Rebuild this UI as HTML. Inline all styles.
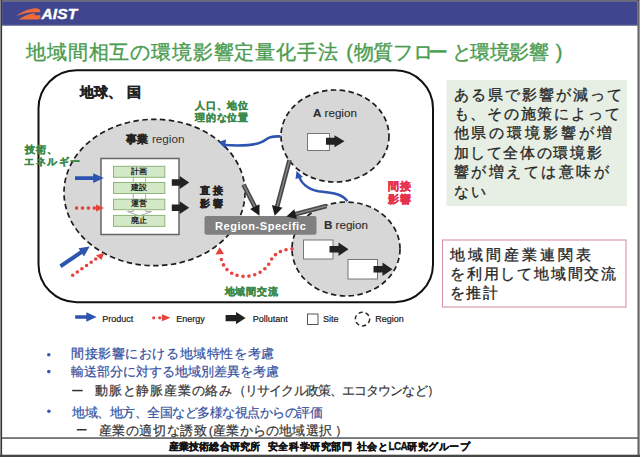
<!DOCTYPE html>
<html><head><meta charset="utf-8">
<style>
html,body{margin:0;padding:0;background:#fff;}
body{width:640px;height:457px;position:relative;overflow:hidden;font-family:"Liberation Sans",sans-serif;}
.a{position:absolute;white-space:nowrap;line-height:1;}
svg{position:absolute;left:0;top:0;}
.g{color:#3c8a4c;font-weight:bold;-webkit-text-stroke:0.35px #3c8a4c;}
.k{color:#222;font-weight:bold;-webkit-text-stroke:0.35px #222;}
.ft{top:441.8px;font-size:10px;font-weight:bold;color:#111;-webkit-text-stroke:0.3px #111;}
.bl{font-size:13px;color:#35509f;-webkit-text-stroke:0.2px currentColor;}
.rb{font-size:15px;color:#262626;-webkit-text-stroke:0.3px #262626;}
.t{top:41.5px;font-size:20px;color:#4a9c4f;-webkit-text-stroke:0.35px #4a9c4f;}
</style></head><body>
<svg width="640" height="457" viewBox="0 0 640 457">
  <!-- frame -->
  <rect x="0" y="0" width="640" height="457" fill="#fff"/>
  <rect x="0" y="0" width="640" height="1.2" fill="#6e6e6e"/>
  <rect x="0" y="0" width="1" height="457" fill="#8a8a8a"/>
  <rect x="1" y="0" width="1.1" height="457" fill="#353535"/>
  <rect x="637.6" y="0" width="1.2" height="457" fill="#303030"/>
  <rect x="638.8" y="0" width="1.2" height="457" fill="#9a9a9a"/>
  <rect x="0" y="454.7" width="640" height="2.3" fill="#474747"/>
  <!-- header -->
  <rect x="2.1" y="1.2" width="635.5" height="23.6" fill="#40468e"/>
  <rect x="2.1" y="24.6" width="635.5" height="1" fill="#2c2f6c"/>
  <!-- logo swoosh -->
  <path d="M16.3,16 C21,12.2 28,9 34.5,8.3 C38.2,8 40.4,9.4 40.4,11.8 L40.4,12.3 L34.6,12.3 C28.5,12.2 22.5,13.6 16.3,16 Z" fill="#f06b3a"/>
  <path d="M18.3,19.4 C23,16.8 28.5,13.9 34.2,13.3 L34.8,13.3 L34.8,15.3 L40.4,15.3 L40.4,17.2 C40.4,18.6 39.3,19.4 37.6,19.4 Z" fill="#f06b3a"/>
  <!-- footer separator -->
  <rect x="2" y="437.3" width="636" height="1.5" fill="#555"/>

  <!-- outer rounded rect -->
  <rect x="38.5" y="70.3" width="394.5" height="231.9" rx="38" ry="38" fill="none" stroke="#111" stroke-width="2"/>

  <!-- ellipses -->
  <ellipse cx="154.5" cy="192.5" rx="90.5" ry="73.2" fill="#d7d7d7" stroke="#1e1e1e" stroke-width="1.7" stroke-dasharray="5.5 3.4"/>
  <ellipse cx="335" cy="136" rx="54" ry="46" fill="#d7d7d7" stroke="#1e1e1e" stroke-width="1.7" stroke-dasharray="5.5 3.4"/>
  <ellipse cx="346" cy="249" rx="54" ry="47" fill="#d7d7d7" stroke="#1e1e1e" stroke-width="1.7" stroke-dasharray="5.5 3.4"/>

  <!-- site box in big ellipse -->
  <rect x="101" y="158.5" width="78" height="76" fill="#fff" stroke="#666" stroke-width="1.5"/>
  <!-- connectors -->
  <rect x="133.2" y="177" width="12.5" height="6" fill="#fff" stroke="#999" stroke-width="0.8"/>
  <rect x="133.2" y="193.2" width="12.5" height="6.4" fill="#fff" stroke="#999" stroke-width="0.8"/>
  <path d="M133.2,209.5 L133.2,211.5 L127.5,211.5 L139.5,216 L151.5,211.5 L145.7,211.5 L145.7,209.5" fill="#fff" stroke="#999" stroke-width="0.8"/>
  <!-- green boxes -->
  <g fill="#d3e8c6" stroke="#8cb57a" stroke-width="1">
    <rect x="113.5" y="166.3" width="51.3" height="11"/>
    <rect x="113.5" y="182.5" width="51.3" height="11"/>
    <rect x="113.5" y="199.2" width="51.3" height="10.5"/>
    <rect x="113.5" y="215.4" width="51.3" height="11"/>
  </g>

  <!-- black arrows (pollutant) -->
  <g fill="#222">
    <path d="M171.8,179.25 h7.9 v-3.15 l9.5,6.4 l-9.5,6.4 v-3.15 h-7.9 z"/>
    <path d="M171.8,204.45 h7.9 v-3.15 l9.5,6.4 l-9.5,6.4 v-3.15 h-7.9 z"/>
  </g>
  <!-- site boxes in A, B -->
  <rect x="307.5" y="133.5" width="22" height="17" fill="#fff" stroke="#777" stroke-width="1"/>
  <rect x="303.5" y="240" width="29.5" height="19" fill="#fff" stroke="#777" stroke-width="1"/>
  <rect x="348" y="259.5" width="29.5" height="19.5" fill="#fff" stroke="#777" stroke-width="1"/>
  <!-- arrows out of sites in A, B -->
  <g fill="#222">
    <path d="M326,137.8 h8.5 v-2.5 l10,6 l-10,6 v-2.5 h-8.5 z"/>
    <path d="M329.5,246 h9 v-3.5 l10,6.7 l-10,6.7 v-3.5 h-9 z"/>
    <path d="M373.5,266 h9 v-3.5 l10,6.7 l-10,6.7 v-3.5 h-9 z"/>
  </g>

  <!-- Region-Specific box -->
  <rect x="204.5" y="216" width="112" height="18.8" rx="2" fill="#808080"/>

  <!-- gray hatched arrows into Region-Specific -->
  <g stroke-linecap="butt">
    <line x1="243.5" y1="184.5" x2="255.0" y2="207.1" stroke="#474747" stroke-width="4.6"/>
    <line x1="243.5" y1="184.5" x2="255.0" y2="207.1" stroke="#8a8a8a" stroke-width="1.3"/>
    <line x1="289.5" y1="160.0" x2="277.1" y2="206.8" stroke="#474747" stroke-width="4.6"/>
    <line x1="289.5" y1="160.0" x2="277.1" y2="206.8" stroke="#8a8a8a" stroke-width="1.3"/>
    <line x1="326.5" y1="206.0" x2="295.1" y2="214.2" stroke="#474747" stroke-width="4.6"/>
    <line x1="326.5" y1="206.0" x2="295.1" y2="214.2" stroke="#8a8a8a" stroke-width="1.3"/>
  </g>
  <g fill="#1c1c1c">
    <path d="M259.5,215.8 L250.1,209.0 L259.5,204.2 Z"/>
    <path d="M274.7,215.8 L271.9,204.9 L282.5,207.7 Z"/>
    <path d="M286.4,216.5 L294.3,209.3 L296.9,218.9 Z"/>
  </g>

  <!-- blue product arrows -->
  <g stroke="#2d54ae" fill="none" stroke-width="2.6">
    <path d="M280.5,136.4 C270,136 268,138 265.6,139.8 C258,146 240,146 224,145"/>
    <path d="M347.4,201.3 C343,195 336,193 318.3,191.3 C308,189 301,183 299,176"/>
  </g>
  <g fill="#2d54ae">
    <path d="M218.4,141.9 L226,139.5 L225,148.5 Z"/>
    <path d="M296.5,170.7 L303,177 L295.5,179 Z"/>
    <path d="M75,176.25 h18.2 v-2.9 l10.6,4.75 l-10.6,5 v-3.1 h-18.2 z"/>
    <path d="M61.6,267.9 L82.3,253.9 L84.0,256.4 L89.7,246.6 L78.5,248.2 L80.1,250.6 L59.4,264.5 Z"/>
    <path d="M75.2,315.2 h11.1 v-2.9 l10.3,4.7 l-10.3,4.7 v-3 h-11.1 z"/>
  </g>

  <!-- red energy arrows (dotted) -->
  <g stroke="#e8403a" fill="none" stroke-width="3.6" stroke-dasharray="0 5.9" stroke-linecap="round">
    <path d="M76.6,208.1 L94.3,208.1"/>
    <path d="M72.7,275.3 L95.8,259" stroke-dasharray="0 5.65"/>
    <path d="M292,248.9 C280,250 274,254 270,262 C265,272 252,278 240,276 C228,274 222,266 220.5,255"/>
    <path d="M153.7,317.8 L159.9,317.8" stroke-dasharray="0 6" stroke-width="3.2"/>
  </g>
  <g fill="#e8403a">
    <path d="M96,204.6 L104,208.1 L96,211.6 Z"/>
    <path d="M96,255.3 L104.3,252.8 L101.4,259.9 Z"/>
    <path d="M219.6,247.2 L215.5,254.5 L224,254 Z"/>
    <path d="M161.9,314.3 L170.5,317.8 L161.9,321.3 Z"/>
  </g>

  <!-- legend items -->
  <path d="M225.6,315 h10.4 v-3.1 l9.6,6.2 l-9.6,6.2 v-3.1 h-10.4 z" fill="#222"/>
  <rect x="307.5" y="314" width="10.5" height="10.5" fill="#fff" stroke="#555" stroke-width="1"/>
  <ellipse cx="362.5" cy="319.1" rx="7.2" ry="6.8" fill="none" stroke="#2a2a2a" stroke-width="1.5" stroke-dasharray="4.2 3"/>

  <!-- right boxes -->
  <rect x="446.5" y="80" width="180.5" height="126" fill="#e7efe4"/>
  <rect x="442.5" y="240" width="183.5" height="67" fill="#fff" stroke="#d8929f" stroke-width="1.1"/>

  <!-- bullets -->
  <g fill="#3a5aa8">
    <circle cx="48.8" cy="354.7" r="1.8"/>
    <circle cx="48.8" cy="371.6" r="1.8"/>
    <circle cx="48.9" cy="411.3" r="1.8"/>
  </g>
  <g fill="#333">
    <rect x="72.2" y="389.8" width="10.5" height="1.5"/>
    <rect x="76.8" y="429" width="9.8" height="1.5"/>
  </g>
</svg>

<!-- header text -->
<div class="a" style="left:41.5px;top:6px;font-size:15.5px;font-weight:bold;font-style:italic;color:#fff;letter-spacing:0.1px;-webkit-text-stroke:0.35px #fff;">AIST</div>

<!-- title -->
<div class="a t" style="left:26px;letter-spacing:0.85px;width:312.75px;text-align:justify;text-align-last:justify;">地域間相互の環境影響定量化手法</div>
<div class="a t" style="left:346.3px;">(</div>
<div class="a t" style="left:354.0px;width:20.00px;text-align:justify;text-align-last:justify;">物</div>
<div class="a t" style="left:372.8px;width:20.00px;text-align:justify;text-align-last:justify;">質</div>
<div class="a t" style="left:393.4px;width:20.00px;text-align:justify;text-align-last:justify;">フ</div>
<div class="a t" style="left:413.0px;width:20.00px;text-align:justify;text-align-last:justify;">ロ</div>
<div class="a t" style="left:428.0px;width:20.00px;text-align:justify;text-align-last:justify;">ー</div>
<div class="a t" style="left:452.2px;width:20.00px;text-align:justify;text-align-last:justify;">と</div>
<div class="a t" style="left:469.5px;width:20.00px;text-align:justify;text-align-last:justify;">環</div>
<div class="a t" style="left:489.8px;width:20.00px;text-align:justify;text-align-last:justify;">境</div>
<div class="a t" style="left:509.0px;width:20.00px;text-align:justify;text-align-last:justify;">影</div>
<div class="a t" style="left:529.4px;width:20.00px;text-align:justify;text-align-last:justify;">響</div>
<div class="a t" style="left:555.8px;">)</div>

<!-- diagram text -->
<div class="a k" style="left:80px;top:85px;font-size:14px;width:61.00px;text-align:justify;text-align-last:justify;">地球、<span style="margin-left:5px">国</span></div>
<div class="a g" style="left:195px;top:100.0px;font-size:10px;letter-spacing:0.8px;line-height:11.6px;width:54.00px;text-align:justify;text-align-last:justify;">人口、地位</div>
<div class="a g" style="left:195px;top:111.6px;font-size:10px;letter-spacing:0.8px;line-height:11.6px;width:54.00px;text-align:justify;text-align-last:justify;">理的な位置</div>
<div class="a g" style="left:25px;top:143.5px;font-size:10px;letter-spacing:0.8px;line-height:12.6px;width:32.41px;text-align:justify;text-align-last:justify;">技術、</div>
<div class="a g" style="left:24.2px;top:156.1px;font-size:10px;letter-spacing:1.5px;line-height:12.6px;width:57.50px;text-align:justify;text-align-last:justify;">エネルギー</div>
<div class="a" style="left:125.5px;top:133.2px;font-size:11.7px;color:#333;width:58.95px;text-align:justify;text-align-last:justify;"><b style="font-size:10.6px;letter-spacing:0.6px;color:#222;-webkit-text-stroke:0.3px #222;">事業</b> region</div>
<div class="a k" style="left:200.3px;top:185.3px;font-size:9.8px;letter-spacing:2.8px;line-height:12px;width:25.61px;text-align:justify;text-align-last:justify;">直接</div>
<div class="a k" style="left:200.3px;top:197.5px;font-size:9.8px;letter-spacing:2.8px;line-height:12px;width:25.61px;text-align:justify;text-align-last:justify;">影響</div>
<div class="a" style="left:313px;top:106.7px;font-size:11.6px;color:#2e2e2e;-webkit-text-stroke:0.15px #2e2e2e;"><b>A</b> region</div>
<div class="a" style="left:324px;top:219.4px;font-size:11.6px;color:#2e2e2e;-webkit-text-stroke:0.15px #2e2e2e;"><b>B</b> region</div>
<div class="a" style="left:215px;top:220.6px;font-size:11px;letter-spacing:0.55px;font-weight:bold;color:#fff;">Region-Specific</div>
<div class="a" style="left:388px;top:180.0px;font-size:11px;line-height:12.7px;letter-spacing:0.5px;font-weight:bold;color:#e5324c;-webkit-text-stroke:0.35px #e5324c;width:23.00px;text-align:justify;text-align-last:justify;">間接</div>
<div class="a" style="left:388px;top:192.7px;font-size:11px;line-height:12.7px;letter-spacing:0.5px;font-weight:bold;color:#e5324c;-webkit-text-stroke:0.35px #e5324c;width:23.00px;text-align:justify;text-align-last:justify;">影響</div>
<div class="a g" style="left:224.5px;top:287px;font-size:10px;letter-spacing:0.75px;width:53.75px;text-align:justify;text-align-last:justify;">地域間交流</div>
<div class="a" style="left:113.5px;width:51.3px;text-align:center;top:167.6px;font-size:8px;font-weight:bold;color:#222;">計画</div>
<div class="a" style="left:113.5px;width:51.3px;text-align:center;top:183.7px;font-size:8px;font-weight:bold;color:#222;">建設</div>
<div class="a" style="left:113.5px;width:51.3px;text-align:center;top:200.2px;font-size:8px;font-weight:bold;color:#222;">運営</div>
<div class="a" style="left:113.5px;width:51.3px;text-align:center;top:216.6px;font-size:8px;font-weight:bold;color:#222;">廃止</div>

<!-- legend text -->
<div class="a" style="left:102.3px;top:314.5px;font-size:9px;color:#1a1a1a;-webkit-text-stroke:0.2px #1a1a1a;">Product</div>
<div class="a" style="left:176.3px;top:314.5px;font-size:9px;color:#1a1a1a;-webkit-text-stroke:0.2px #1a1a1a;">Energy</div>
<div class="a" style="left:252.8px;top:314.5px;font-size:9px;color:#1a1a1a;-webkit-text-stroke:0.2px #1a1a1a;">Pollutant</div>
<div class="a" style="left:323px;top:314.5px;font-size:9px;color:#1a1a1a;-webkit-text-stroke:0.2px #1a1a1a;">Site</div>
<div class="a" style="left:375.3px;top:314.5px;font-size:9px;color:#1a1a1a;-webkit-text-stroke:0.2px #1a1a1a;">Region</div>

<!-- right boxes text -->
<div class="a rb" style="left:453.5px;top:86.6px;letter-spacing:2.00px;width:170.00px;text-align:justify;text-align-last:justify;">ある県で影響が減って</div>
<div class="a rb" style="left:453.5px;top:106.0px;letter-spacing:1.80px;width:168.00px;text-align:justify;text-align-last:justify;">も、その施策によって</div>
<div class="a rb" style="left:453.5px;top:125.4px;letter-spacing:2.94px;width:161.47px;text-align:justify;text-align-last:justify;">他県の環境影響が増</div>
<div class="a rb" style="left:453.5px;top:144.8px;letter-spacing:1.65px;width:149.86px;text-align:justify;text-align-last:justify;">加して全体の環境影</div>
<div class="a rb" style="left:453.5px;top:164.2px;letter-spacing:2.56px;width:158.05px;text-align:justify;text-align-last:justify;">響が増えては意味が</div>
<div class="a rb" style="left:453.5px;top:183.6px;letter-spacing:2.15px;width:34.31px;text-align:justify;text-align-last:justify;">ない</div>
<div class="a rb" style="left:450px;top:246.8px;letter-spacing:2.98px;width:143.84px;text-align:justify;text-align-last:justify;">地域間産業連関表</div>
<div class="a rb" style="left:450px;top:266.0px;letter-spacing:1.79px;width:167.91px;text-align:justify;text-align-last:justify;">を利用して地域間交流</div>
<div class="a rb" style="left:450px;top:285.2px;letter-spacing:1.45px;width:49.36px;text-align:justify;text-align-last:justify;">を推計</div>

<!-- bullets text -->
<div class="a bl" style="left:71px;top:346.8px;letter-spacing:0.58px;width:203.70px;text-align:justify;text-align-last:justify;">間接影響における地域特性を考慮</div>
<div class="a bl" style="left:71px;top:365px;letter-spacing:0.0px;width:208.00px;text-align:justify;text-align-last:justify;">輸送部分に対する地域別差異を考慮</div>
<div class="a bl" style="left:95px;top:383.5px;letter-spacing:-0.9px;color:#333;width:343.70px;text-align:justify;text-align-last:justify;"><span style="letter-spacing:0.8px">動脈と静脈産業の絡み</span>（リサイクル政策、エコタウンなど）</div>
<div class="a bl" style="left:72px;top:405.5px;letter-spacing:-0.48px;width:250.41px;text-align:justify;text-align-last:justify;">地域、地方、全国など多様な視点からの評価</div>
<div class="a bl" style="left:98.5px;top:424.3px;letter-spacing:0.2px;color:#333;width:249.75px;text-align:justify;text-align-last:justify;"><span style="letter-spacing:0.65px">産業の適切な誘致</span><span style="margin-left:1px">(</span>産業からの地域選択<span style="margin-left:3px">）</span></div>

<!-- footer -->
<div class="a ft" style="left:168.8px;letter-spacing:0.15px;width:91.36px;text-align:justify;text-align-last:justify;">産業技術総合研究所</div>
<div class="a ft" style="left:267.6px;letter-spacing:0.65px;width:85.20px;text-align:justify;text-align-last:justify;">安全科学研究部門</div>
<div class="a ft" style="left:356.8px;letter-spacing:0.55px;width:113.73px;text-align:justify;text-align-last:justify;">社会と<span style="letter-spacing:-0.6px">LCA</span>研究グループ</div>
</body></html>
